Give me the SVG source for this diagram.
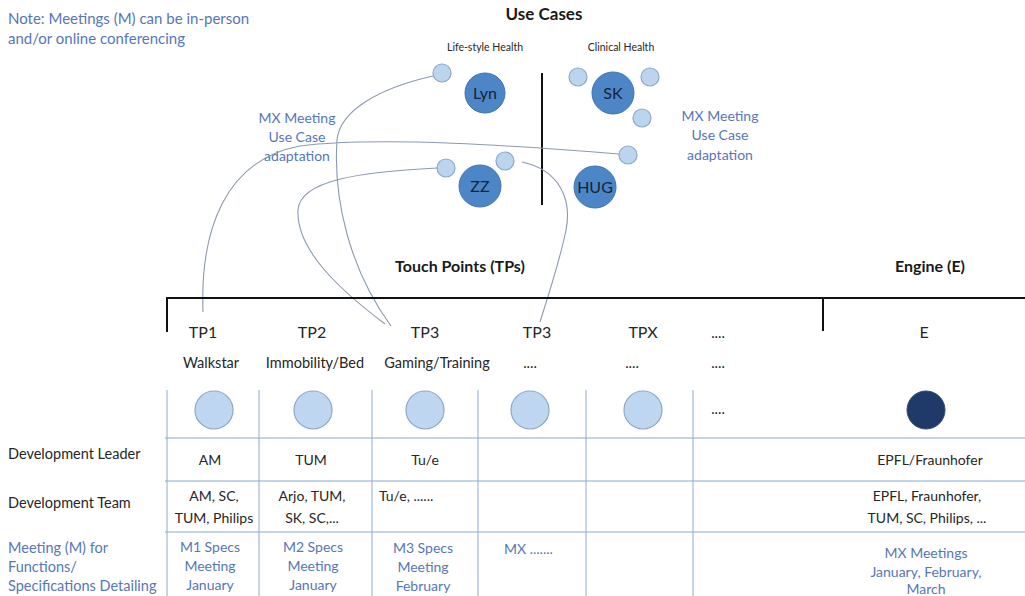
<svg xmlns="http://www.w3.org/2000/svg" width="1025" height="596" viewBox="0 0 1025 596">
<style>
text{font-family:Lato,"Open Sans","Liberation Sans",sans-serif;fill:#262626}
.b{fill:#5776b8}
.h{font-weight:bold;fill:#1a1a1a}
.c{text-anchor:middle}
.sm{fill:#bcd5ee;stroke:#8ea8c6;stroke-width:1.2}
.big{fill:#4d86c6;stroke:#3f74b0;stroke-width:1}
.big-t{font-size:16px;fill:#14233a;text-anchor:middle}
.tp{fill:#bed6ef;stroke:#8ea8c6;stroke-width:1.2}
.curve{fill:none;stroke:#8a9aae;stroke-width:1.1}
.hl{stroke:#c3d4e6;stroke-width:2.2}
.vl{stroke:#8faad0;stroke-width:1}
.blk{stroke:#111;stroke-width:2;fill:none}
.rl{font-size:14.5px}
.cell{font-size:14px}
.sub{font-size:14.5px}
</style>
<rect width="1025" height="596" fill="#fff"/>

<g id="note">
<text x="8" y="24" class="b" font-size="15">Note: Meetings (M) can be in-person</text>
<text x="8" y="44" class="b" font-size="15">and/or online conferencing</text>
</g>

<g id="use-cases">
<text x="544" y="20" class="h c" font-size="17">Use Cases</text>
<text x="485" y="51" class="c" font-size="10.5">Life-style Health</text>
<text x="621" y="51" class="c" font-size="10.5">Clinical Health</text>
<line x1="542" y1="73" x2="542" y2="205" class="blk"/>
</g>

<g id="lyn"><circle cx="442" cy="73" r="9" class="sm"/><circle cx="485" cy="93" r="20" class="big"/><text x="485" y="99" class="big-t">Lyn</text></g>
<g id="zz"><circle cx="446" cy="168" r="9" class="sm"/><circle cx="505" cy="161" r="9" class="sm"/><circle cx="480" cy="186" r="21" class="big"/><text x="480" y="192" class="big-t">ZZ</text></g>
<g id="sk"><circle cx="578" cy="77" r="9" class="sm"/><circle cx="650" cy="77" r="9" class="sm"/><circle cx="642" cy="118" r="9" class="sm"/><circle cx="613" cy="93" r="21" class="big"/><text x="613" y="99" class="big-t">SK</text></g>
<g id="hug"><circle cx="628" cy="155" r="9" class="sm"/><circle cx="595" cy="187" r="21" class="big"/><text x="595" y="193" class="big-t">HUG</text></g>

<g id="mx-left">
<text x="297" y="123" class="b c" font-size="14">MX Meeting</text>
<text x="297" y="142" class="b c" font-size="14">Use Case</text>
<text x="297" y="161" class="b c" font-size="14">adaptation</text>
</g>
<g id="mx-right">
<text x="720" y="121" class="b c" font-size="14">MX Meeting</text>
<text x="720" y="140" class="b c" font-size="14">Use Case</text>
<text x="720" y="160" class="b c" font-size="14">adaptation</text>
</g>

<g id="connectors">
<path class="curve" d="M203,312 C200,230 225,160 300,146 C380,136 520,146 619,154"/>
<path class="curve" d="M433,76 C380,88 340,110 337,140 C333,200 350,270 391,326"/>
<path class="curve" d="M437,168 C360,172 300,180 298,210 C296,250 340,290 385,324"/>
<path class="curve" d="M522,162 C560,170 572,200 566,230 C560,260 550,290 540,322"/>
</g>

<g id="headers">
<text x="460" y="272" class="h c" font-size="16">Touch Points (TPs)</text>
<text x="930" y="272" class="h c" font-size="16">Engine (E)</text>
<path class="blk" d="M167,332 V298 H1025"/>
<line x1="823" y1="298" x2="823" y2="331" class="blk"/>
</g>

<g id="tp1"><text x="203" y="338" class="c" font-size="16">TP1</text><text x="211" y="368" class="c sub">Walkstar</text><circle cx="214" cy="410" r="19" class="tp"/></g>
<g id="tp2"><text x="312" y="338" class="c" font-size="16">TP2</text><text x="315" y="368" class="c sub">Immobility/Bed</text><circle cx="313" cy="410" r="19" class="tp"/></g>
<g id="tp3"><text x="425" y="338" class="c" font-size="16">TP3</text><text x="437" y="368" class="c sub">Gaming/Training</text><circle cx="425" cy="410" r="19" class="tp"/></g>
<g id="tp3b"><text x="537" y="338" class="c" font-size="16">TP3</text><text x="530" y="368" class="c sub">....</text><circle cx="530" cy="410" r="19" class="tp"/></g>
<g id="tpx"><text x="643" y="338" class="c" font-size="16">TPX</text><text x="632" y="368" class="c sub">....</text><circle cx="643" cy="410" r="19" class="tp"/></g>
<g id="tpmore"><text x="718" y="338" class="c sub">....</text><text x="718" y="368" class="c sub">....</text><text x="718" y="414" class="c sub">....</text></g>
<g id="engine"><text x="924" y="338" class="c" font-size="16">E</text><circle cx="926" cy="410" r="19" fill="#1f3a68" stroke="#2c4a7a"/></g>

<g id="table">
<line x1="165" y1="438" x2="1025" y2="438" class="hl"/>
<line x1="165" y1="481" x2="1025" y2="481" class="hl"/>
<line x1="165" y1="532" x2="1025" y2="532" class="hl"/>
<line x1="167" y1="390" x2="167" y2="596" class="vl"/>
<line x1="259" y1="390" x2="259" y2="596" class="vl"/>
<line x1="372" y1="390" x2="372" y2="596" class="vl"/>
<line x1="478" y1="390" x2="478" y2="596" class="vl"/>
<line x1="586" y1="390" x2="586" y2="596" class="vl"/>
<line x1="693" y1="390" x2="693" y2="596" class="vl"/>
</g>

<g id="rows">
<text x="8" y="459" class="rl">Development Leader</text>
<text x="8" y="508" class="rl">Development Team</text>
<text x="8" y="553" class="b rl">Meeting (M) for</text>
<text x="8" y="572" class="b rl">Functions/</text>
<text x="8" y="591" class="b rl">Specifications Detailing</text>

<text x="210" y="465" class="c cell">AM</text>
<text x="311" y="465" class="c cell">TUM</text>
<text x="425" y="465" class="c cell">Tu/e</text>
<text x="930" y="465" class="c cell">EPFL/Fraunhofer</text>

<text x="214" y="501" class="c cell">AM, SC,</text>
<text x="214" y="523" class="c cell" font-size="13.5">TUM, Philips</text>
<text x="312" y="501" class="c cell">Arjo, TUM,</text>
<text x="312" y="523" class="c cell">SK, SC,...</text>
<text x="379" y="501" class="cell">Tu/e, ......</text>
<text x="927" y="501" class="c cell">EPFL, Fraunhofer,</text>
<text x="927" y="523" class="c cell">TUM, SC, Philips, ...</text>

<text x="210" y="552" class="b c cell">M1 Specs</text>
<text x="210" y="571" class="b c cell">Meeting</text>
<text x="210" y="590" class="b c cell">January</text>
<text x="313" y="552" class="b c cell">M2 Specs</text>
<text x="313" y="571" class="b c cell">Meeting</text>
<text x="313" y="590" class="b c cell">January</text>
<text x="423" y="553" class="b c cell">M3 Specs</text>
<text x="423" y="572" class="b c cell">Meeting</text>
<text x="423" y="591" class="b c cell">February</text>
<text x="504" y="554" class="b cell">MX .......</text>
<text x="926" y="558" class="b c cell">MX Meetings</text>
<text x="926" y="577" class="b c cell">January, February,</text>
<text x="926" y="594" class="b c cell">March</text>
</g>
</svg>
